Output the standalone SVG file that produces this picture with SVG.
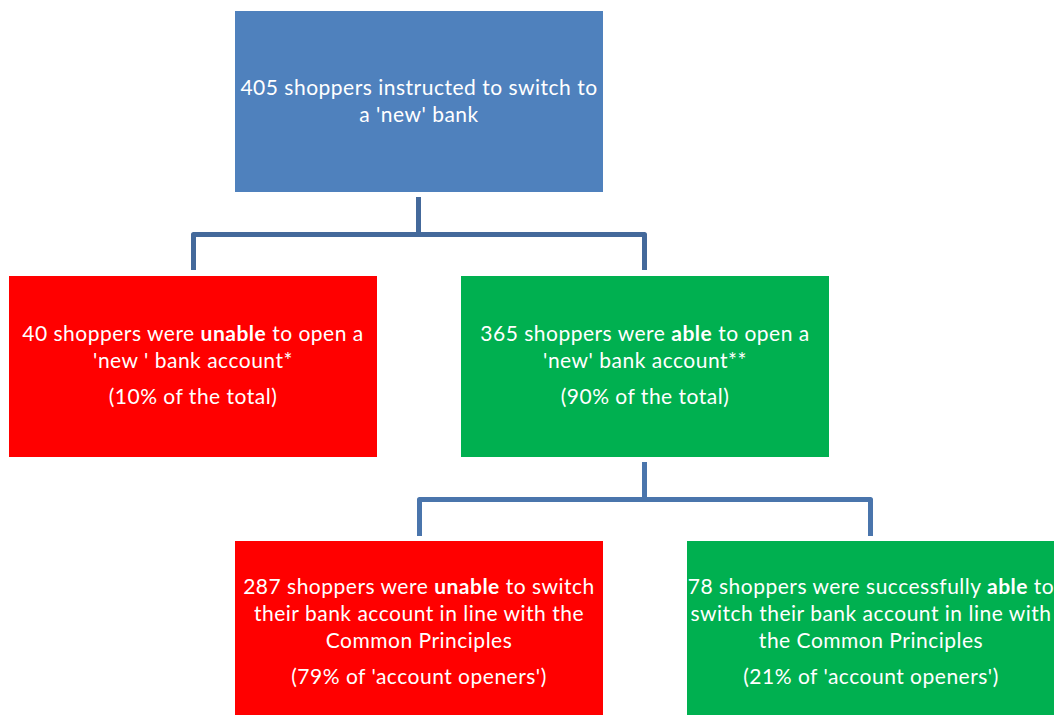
<svg xmlns="http://www.w3.org/2000/svg" width="1054" height="715" viewBox="0 0 1054 715">
<style>
.t{font-family:Lato,"Liberation Sans",sans-serif;font-size:21px;letter-spacing:0.5px;fill:#fff;text-anchor:middle}
.b{font-weight:bold}
.c1{fill:none;stroke:#44699b;stroke-width:5;stroke-linejoin:round}
.c2{fill:none;stroke:#4a75ac;stroke-width:5;stroke-linejoin:round}
</style>
<rect width="1054" height="715" fill="#fff"/>
<g id="connectors">
<path class="c1" d="M418.5 197V234.5M193.5 270V234.5H644.5V270"/>
<path class="c2" d="M644.5 462V499.5M419.5 536V499.5H870.5V536"/>
</g>
<g id="n1">
<rect x="235" y="11" width="368" height="181" fill="#4f81bd"/>
<text class="t" x="419" y="95">405 shoppers instructed to switch to</text>
<text class="t" x="419" y="122">a 'new' bank</text>
</g>
<g id="n2">
<rect x="9" y="276" width="368" height="181" fill="#ff0000"/>
<text class="t" x="193" y="341">40 shoppers were <tspan class="b">unable</tspan> to open a</text>
<text class="t" x="193" y="368">'new ' bank account*</text>
<text class="t" x="193" y="404">(10% of the total)</text>
</g>
<g id="n3">
<rect x="461" y="276" width="368" height="181" fill="#00b050"/>
<text class="t" x="645" y="341">365 shoppers were <tspan class="b">able</tspan> to open a</text>
<text class="t" x="645" y="368">'new' bank account**</text>
<text class="t" x="645" y="404">(90% of the total)</text>
</g>
<g id="n4">
<rect x="235" y="541" width="368" height="174" fill="#ff0000"/>
<text class="t" x="419" y="594">287 shoppers were <tspan class="b">unable</tspan> to switch</text>
<text class="t" x="419" y="621">their bank account in line with the</text>
<text class="t" x="419" y="648">Common Principles</text>
<text class="t" x="419" y="684">(79% of 'account openers')</text>
</g>
<g id="n5">
<rect x="687" y="541" width="367" height="174" fill="#00b050"/>
<text class="t" x="871" y="594">78 shoppers were successfully <tspan class="b">able</tspan> to</text>
<text class="t" x="871" y="621">switch their bank account in line with</text>
<text class="t" x="871" y="648">the Common Principles</text>
<text class="t" x="871" y="684">(21% of 'account openers')</text>
</g>
</svg>
